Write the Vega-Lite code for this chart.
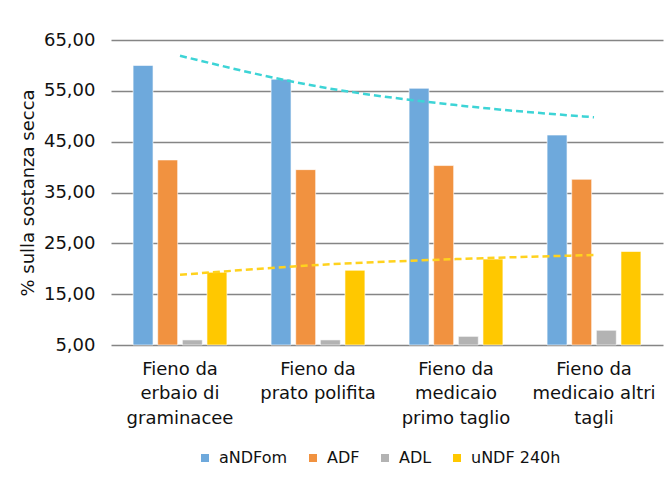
{
  "$schema": "https://vega.github.io/schema/vega-lite/v6.json",
  "width": 552,
  "height": 305,
  "autosize": {"type": "none"},
  "padding": {"left": 111, "top": 40, "right": 7, "bottom": 133},
  "background": "white",
  "config": {
    "font": "DejaVu Sans",
    "view": {"stroke": null},
    "axis": {"labelColor": "#111111", "titleColor": "#111111"},
    "legend": {"labelColor": "#111111"}
  },
  "datasets": {
    "bars": [
      {"cat": "Fieno da|erbaio di|graminacee", "series": "aNDFom", "value": 60.0},
      {"cat": "Fieno da|erbaio di|graminacee", "series": "ADF", "value": 41.4},
      {"cat": "Fieno da|erbaio di|graminacee", "series": "ADL", "value": 6.0},
      {"cat": "Fieno da|erbaio di|graminacee", "series": "uNDF 240h", "value": 19.3},
      {"cat": "Fieno da|prato polifita", "series": "aNDFom", "value": 57.3},
      {"cat": "Fieno da|prato polifita", "series": "ADF", "value": 39.5},
      {"cat": "Fieno da|prato polifita", "series": "ADL", "value": 6.0},
      {"cat": "Fieno da|prato polifita", "series": "uNDF 240h", "value": 19.7},
      {"cat": "Fieno da|medicaio|primo taglio", "series": "aNDFom", "value": 55.5},
      {"cat": "Fieno da|medicaio|primo taglio", "series": "ADF", "value": 40.3},
      {"cat": "Fieno da|medicaio|primo taglio", "series": "ADL", "value": 6.7},
      {"cat": "Fieno da|medicaio|primo taglio", "series": "uNDF 240h", "value": 21.9},
      {"cat": "Fieno da|medicaio altri|tagli", "series": "aNDFom", "value": 46.3},
      {"cat": "Fieno da|medicaio altri|tagli", "series": "ADF", "value": 37.6},
      {"cat": "Fieno da|medicaio altri|tagli", "series": "ADL", "value": 7.9},
      {"cat": "Fieno da|medicaio altri|tagli", "series": "uNDF 240h", "value": 23.4}
    ],
    "trends": [
      {"cat": "Fieno da|erbaio di|graminacee", "trend": "aNDFom", "value": 61.9},
      {"cat": "Fieno da|prato polifita", "trend": "aNDFom", "value": 55.85},
      {"cat": "Fieno da|medicaio|primo taglio", "trend": "aNDFom", "value": 52.2},
      {"cat": "Fieno da|medicaio altri|tagli", "trend": "aNDFom", "value": 49.8},
      {"cat": "Fieno da|erbaio di|graminacee", "trend": "uNDF", "value": 18.8},
      {"cat": "Fieno da|prato polifita", "trend": "uNDF", "value": 20.75},
      {"cat": "Fieno da|medicaio|primo taglio", "trend": "uNDF", "value": 21.9},
      {"cat": "Fieno da|medicaio altri|tagli", "trend": "uNDF", "value": 22.7}
    ]
  },
  "layer": [
    {
      "data": {"name": "bars"},
      "mark": {"type": "bar", "stroke": "#ffffff", "strokeOpacity": 0.6, "strokeWidth": 1},
      "encoding": {
        "x": {
          "field": "cat", "type": "nominal",
          "sort": ["Fieno da|erbaio di|graminacee", "Fieno da|prato polifita", "Fieno da|medicaio|primo taglio", "Fieno da|medicaio altri|tagli"],
          "scale": {"paddingInner": 0.32, "paddingOuter": 0.16},
          "axis": {
            "title": null, "domain": false, "ticks": false, "grid": false, "labelAngle": 0,
            "labelExpr": "split(datum.label, '|')", "labelLineHeight": 24.5,
            "labelFontSize": 18, "labelPadding": 15, "labelLimit": 0
          }
        },
        "xOffset": {
          "field": "series", "type": "nominal",
          "sort": ["aNDFom", "ADF", "ADL", "uNDF 240h"],
          "scale": {"paddingInner": 0.19, "paddingOuter": 0}
        },
        "y": {
          "field": "value", "type": "quantitative",
          "scale": {"domain": [5, 65], "zero": false, "nice": false},
          "axis": {
            "values": [5, 15, 25, 35, 45, 55, 65],
            "grid": true, "gridColor": "#858585", "gridWidth": 1.5,
            "domain": false, "ticks": false,
            "labelFontSize": 18, "labelPadding": 16,
            "labelExpr": "replace(format(datum.value, '.2f'), '.', ',')",
            "title": "% sulla sostanza secca", "titleFontSize": 18, "titleFontWeight": "normal", "titlePadding": 6
          }
        },
        "y2": {"datum": 5},
        "color": {
          "field": "series", "type": "nominal",
          "scale": {"domain": ["aNDFom", "ADF", "ADL", "uNDF 240h"], "range": ["#6EA9DC", "#F19240", "#B3B3B3", "#FFC800"]},
          "legend": {
            "title": null, "orient": "none", "legendX": 86, "legendY": 410, "direction": "horizontal",
            "symbolType": "square", "symbolSize": 64, "symbolStrokeWidth": 0,
            "labelFontSize": 16, "labelOffset": 6, "columnPadding": 17
          }
        }
      }
    },
    {
      "data": {"name": "trends"},
      "transform": [{"filter": "datum.trend == 'aNDFom'"}],
      "mark": {"type": "line", "color": "#3DD4D6", "strokeDash": [7, 4], "strokeWidth": 2.5, "interpolate": "monotone"},
      "encoding": {
        "x": {"field": "cat", "type": "nominal", "sort": ["Fieno da|erbaio di|graminacee", "Fieno da|prato polifita", "Fieno da|medicaio|primo taglio", "Fieno da|medicaio altri|tagli"]},
        "y": {"field": "value", "type": "quantitative"}
      }
    },
    {
      "data": {"name": "trends"},
      "transform": [{"filter": "datum.trend == 'uNDF'"}],
      "mark": {"type": "line", "color": "#FFD21E", "strokeDash": [7, 4], "strokeWidth": 2.5, "interpolate": "monotone"},
      "encoding": {
        "x": {"field": "cat", "type": "nominal", "sort": ["Fieno da|erbaio di|graminacee", "Fieno da|prato polifita", "Fieno da|medicaio|primo taglio", "Fieno da|medicaio altri|tagli"]},
        "y": {"field": "value", "type": "quantitative"}
      }
    }
  ]
}
